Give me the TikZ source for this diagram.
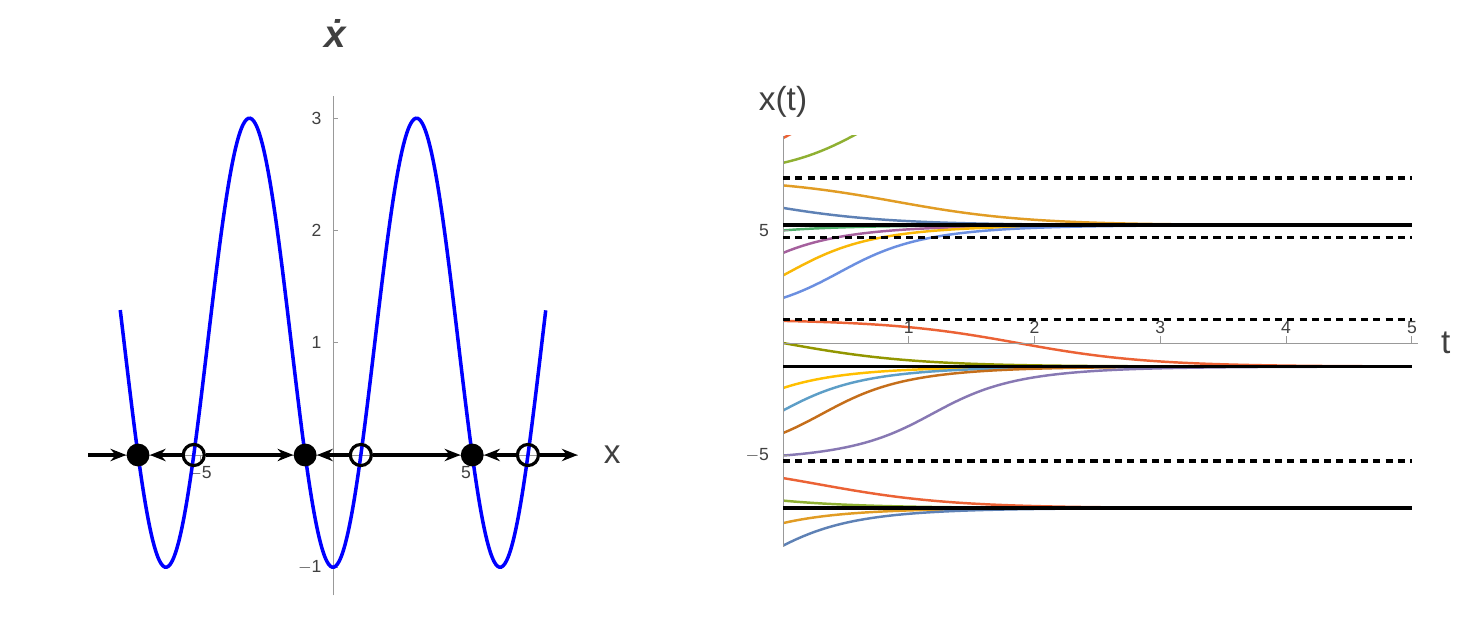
\documentclass[tikz,border=0pt]{standalone}
\usepackage{fontspec}
\setmainfont{Liberation Sans}
\usetikzlibrary{arrows.meta}
\definecolor{mBlue}{HTML}{5E81B5}
\definecolor{mOrange}{HTML}{E19C24}
\definecolor{mGreen}{HTML}{8FB032}
\definecolor{mRed}{HTML}{EB6235}
\definecolor{mPurple}{HTML}{8778B3}
\definecolor{mBrown}{HTML}{C56E1A}
\definecolor{mTeal}{HTML}{5D9EC7}
\definecolor{mYellow}{HTML}{FFBF00}
\definecolor{mPink}{HTML}{A5609D}
\definecolor{mOlive}{HTML}{929600}
\definecolor{mLBlue}{HTML}{6B8FE0}
\definecolor{mSea}{HTML}{4FAF6A}
\tikzset{
  axis/.style={gray!80,line width=0.5pt},
  ticklab/.style={font=\fontsize{10}{12}\selectfont,text=black!75},
  biglab/.style={font=\fontsize{19}{22}\selectfont,text=black!75},
  flow/.style={line width=2pt,-{Stealth[length=9pt,width=7pt]}},
  stable/.style={circle,fill=black,inner sep=0pt,minimum size=13pt},
  unstable/.style={circle,draw=black,line width=1.8pt,inner sep=0pt,minimum size=12pt},
  fixline/.style={line width=1.9pt,black},
  dashline/.style={line width=1.9pt,black,dash pattern=on 4pt off 3pt},
  traj/.style={line width=1.4pt}
}
% integrate xdot = 1 - 2 cos x with a midpoint step and draw the curve
\newcommand\trajcurve[2]{%
  \xdef\cx{#1}\xdef\pts{(0,\cx)}%
  \foreach \i in {1,...,100}{%
    \pgfmathsetmacro\mx{\cx+0.025*(1-2*cos(deg(\cx)))}%
    \pgfmathsetmacro\nx{\cx+0.05*(1-2*cos(deg(\mx)))}%
    \pgfmathsetmacro\tt{\i*0.05}%
    \xdef\cx{\nx}\xdef\pts{\pts -- (\tt,\cx)}}%
  \edef\tmp{\noexpand\draw[traj,#2] \pts;}\tmp}
\begin{document}
\begin{tikzpicture}[x=0.02cm,y=0.02cm]
  \useasboundingbox (0,0) rectangle (1459,621);
  % phase line
  \begin{scope}[shift={(333,166)},x=0.532cm,y=2.246cm]
    \draw[axis] (-9.2,0) -- (9.2,0);
    \draw[axis] (0,-1.25) -- (0,3.2);
    \foreach \v/\l in {-1/$-$1,1/1,2/2,3/3}
      \draw[axis] (0,\v) -- (0.2,\v) node[ticklab,anchor=east,xshift=-6pt] {\l};
    \foreach \v/\l in {-5/$-$5,5/5}
      \draw[axis] (\v,0) -- (\v,-0.05) node[ticklab,anchor=north] {\l};
    \draw[blue,line width=2pt] plot[domain=-8:8,samples=240,smooth] (\x,{1-2*cos(deg(\x))});
    \coordinate (L0) at (-9.2,0);
    \coordinate (R0) at (9.2,0);
    \node[stable]   (s1) at (-7.330,0) {};
    \node[unstable] (u1) at (-5.236,0) {};
    \node[stable]   (s2) at (-1.047,0) {};
    \node[unstable] (u2) at (1.047,0) {};
    \node[stable]   (s3) at (5.236,0) {};
    \node[unstable] (u3) at (7.330,0) {};
    \draw[flow] (L0) -- (s1);
    \draw[flow] (u1) -- (s1);
    \draw[flow] (u1) -- (s2);
    \draw[flow] (u2) -- (s2);
    \draw[flow] (u2) -- (s3);
    \draw[flow] (u3) -- (s3);
    \draw[flow] (u3) -- (R0);
    \node[biglab] (xl) at (10.5,0) {x};
    \node[biglab,font=\fontsize{22}{26}\selectfont\bfseries] (xd) at (0.1,3.75) {\textit{\.x}};
  \end{scope}
  % solutions x(t)
  \begin{scope}[shift={(783,278)},x=2.516cm,y=0.4504cm]
    \begin{scope}
      \clip (0,-9.05) rectangle (5,9.2);
      \trajcurve{9.1}{mRed}
      \trajcurve{8}{mGreen}
      \trajcurve{7}{mOrange}
      \trajcurve{6}{mBlue}
      \trajcurve{5}{mSea}
      \trajcurve{4}{mPink}
      \trajcurve{3}{mYellow!80!mOrange}
      \trajcurve{2}{mLBlue}
      \trajcurve{0.98}{mRed}
      \trajcurve{0}{mOlive}
      \trajcurve{-2}{mYellow}
      \trajcurve{-3}{mTeal}
      \trajcurve{-4}{mBrown}
      \trajcurve{-5}{mPurple}
      \trajcurve{-6}{mRed}
      \trajcurve{-7}{mGreen}
      \trajcurve{-8}{mOrange}
      \trajcurve{-9}{mBlue}
    \end{scope}
    \draw[axis] (0,0) -- (5.05,0);
    \draw[axis] (0,-9.05) -- (0,9.2);
    \foreach \v in {1,...,5}
      \draw[axis] (\v,0) -- (\v,0.3) node[ticklab,anchor=south,yshift=-2pt] {\v};
    \foreach \v/\l in {5/5,-5/$-$5}
      \draw[axis] (0,\v) -- (0.05,\v) node[ticklab,anchor=east,xshift=-8pt] {\l};
    \foreach \v in {7.33,4.7,1.047,-5.236}
      \draw[dashline] (0,\v) -- (5,\v);
    \foreach \v in {5.236,-1.047,-7.33}
      \draw[fixline] (0,\v) -- (5,\v);
    \node[biglab] (tl) at (5.27,0) {t};
    \node[biglab] (xt) at (0,10.7) {x(t)};
  \end{scope}
\end{tikzpicture}
\end{document}
